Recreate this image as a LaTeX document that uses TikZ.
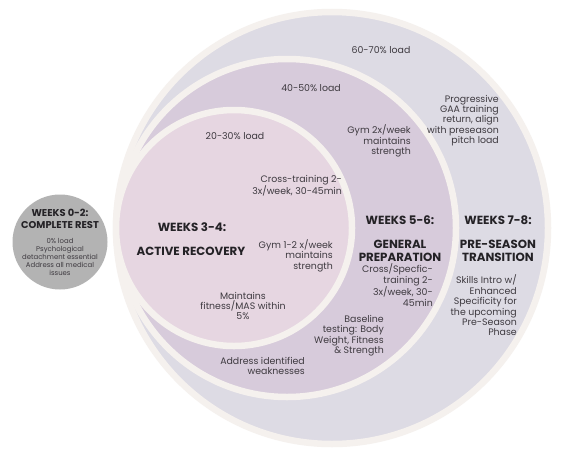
\documentclass[tikz,border=0pt]{standalone}
\usepackage{fontspec}
\setmainfont{Poppins}
\definecolor{ringA}{RGB}{221,219,228}
\definecolor{ringB}{RGB}{215,203,219}
\definecolor{ringC}{RGB}{230,214,225}
\definecolor{rimc}{RGB}{245,241,238}
\definecolor{greyc}{RGB}{179,179,179}
\definecolor{txt}{RGB}{62,58,64}
\definecolor{hd}{RGB}{36,34,38}
\begin{document}
\begin{tikzpicture}[x=1pt,y=-1pt,
  ring/.style={draw=rimc, line width=6.5pt},
  body/.style={font=\fontsize{9.4}{10.4}\selectfont, text=txt, inner sep=0pt},
  head/.style={font=\fontsize{11.8}{13}\selectfont\bfseries, text=hd, inner sep=0pt, align=center},
  smallhead/.style={font=\fontsize{9.9}{12}\selectfont\bfseries, text=hd, inner sep=0pt, align=center},
  small/.style={font=\fontsize{6.9}{8}\selectfont, text=txt, inner sep=0pt, align=center},
  rbody/.style={body, anchor=east, align=right},
]
\useasboundingbox[fill=white] (0,0) rectangle (561,455);
% rings
\path[ring, fill=ringA] (332,228) circle[radius=216pt];
\path[ring, fill=ringB] (287,228) circle[radius=169pt];
\path[ring, fill=ringC] (234,228) circle[radius=118pt];
% grey circle
\fill[greyc] (60,242) circle[radius=47.5pt];
\node[smallhead] (w02) at (60,219) {WEEKS 0-2:\\COMPLETE REST};
\node[small] (rest) at (60,257) {0\% load\\Psychological\\detachment essential\\Address all medical\\issues};
% loads
\node[body] (l78) at (381,50) {60-70\% load};
\node[body] (l56) at (311,88) {40-50\% load};
\node[body] (l34) at (235,136) {20-30\% load};
% weeks 3-4
\node[head] (w34) at (192,227) {WEEKS 3-4:};
\node[head] (ar) at (191,251) {ACTIVE RECOVERY};
\node[rbody] (ct34) at (342,185.5) {Cross-training 2-\\3x/week, 30-45min};
\node[rbody] (gym34) at (333,255.5) {Gym 1-2 x/week\\maintains\\strength};
\node[body, align=center] (mas) at (243,306) {Maintains\\fitness/MAS within\\5\%};
% weeks 5-6
\node[head] (w56) at (400,220) {WEEKS 5-6:};
\node[head] (gp) at (400,250.5) {GENERAL\\PREPARATION};
\node[rbody] (gym56) at (411,141) {Gym 2x/week\\maintains\\strength};
\node[rbody] (cs56) at (433,285) {Cross/Specfic-\\training 2-\\3x/week, 30-\\45min};
\node[rbody] (base) at (384,335.5) {Baseline\\testing: Body\\Weight, Fitness\\\& Strength};
\node[rbody] (weak) at (305,366) {Address identified\\weaknesses};
% weeks 7-8
\node[head] (w78) at (498,220) {WEEKS 7-8:};
\node[head] (pst) at (498,250.5) {PRE-SEASON\\TRANSITION};
\node[rbody] (gaa) at (499,120.5) {Progressive\\GAA training\\return, align\\with preseason\\pitch load};
\node[rbody] (skills) at (517,305.5) {Skills Intro w/\\Enhanced\\Specificity for\\the upcoming\\Pre-Season\\Phase};
\end{tikzpicture}
\end{document}
